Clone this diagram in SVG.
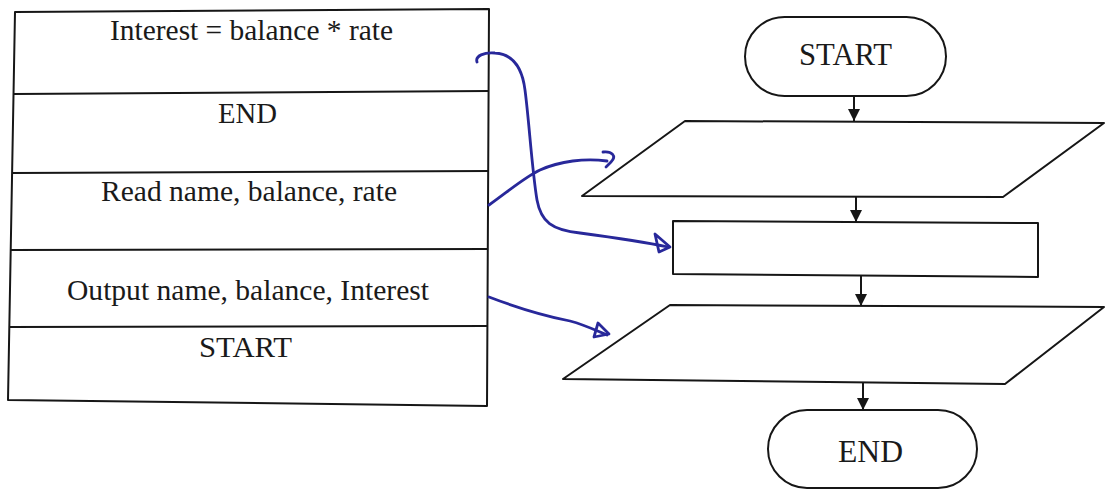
<svg xmlns="http://www.w3.org/2000/svg" width="1105" height="490" viewBox="0 0 1105 490">
<style>
.ln{fill:none;stroke:#161616;stroke-width:2;stroke-linejoin:round}
.txt{font-family:"Liberation Serif","Times New Roman",serif;font-size:30px;fill:#1a1a1a}
.big{font-size:32px}
.blue{fill:none;stroke:#28289a;stroke-width:2.8;stroke-linecap:round;stroke-linejoin:round}
.arr{fill:none;stroke:#161616;stroke-width:2;marker-end:url(#ah)}
</style>
<defs>
<marker id="ah" viewBox="0 0 10 10" refX="10" refY="5" markerWidth="15" markerHeight="12" markerUnits="userSpaceOnUse" orient="auto">
<path d="M0,0 L10,5 L0,10 Z" fill="#161616"/>
</marker>
</defs>
<rect width="1105" height="490" fill="#ffffff"/>

<g id="table">
<polygon class="ln" points="15,12 489,9 487,406 8,400"/>
<line class="ln" x1="14" y1="94" x2="489" y2="91"/>
<line class="ln" x1="12" y1="173" x2="489" y2="171"/>
<line class="ln" x1="11" y1="250" x2="488" y2="249"/>
<line class="ln" x1="9" y1="327" x2="488" y2="326"/>
</g>
<g id="row-interest"><text class="txt" x="110" y="40" textLength="283" lengthAdjust="spacingAndGlyphs">Interest = balance * rate</text></g>
<g id="row-end"><text class="txt" x="218" y="123" textLength="59" lengthAdjust="spacingAndGlyphs">END</text></g>
<g id="row-read"><text class="txt" x="101" y="201" textLength="296" lengthAdjust="spacingAndGlyphs">Read name, balance, rate</text></g>
<g id="row-output"><text class="txt" x="67" y="300" textLength="362" lengthAdjust="spacingAndGlyphs">Output name, balance, Interest</text></g>
<g id="row-start"><text class="txt" x="199" y="357" textLength="93" lengthAdjust="spacingAndGlyphs">START</text></g>

<g id="fc-start">
<rect class="ln" x="745" y="17" width="201" height="79" rx="39.5"/>
<text class="txt big" x="799" y="65" textLength="93" lengthAdjust="spacingAndGlyphs">START</text>
</g>
<g id="fc-input">
<polygon class="ln" points="685,121 1104,123 1003,197 582,196"/>
</g>
<g id="fc-process">
<polygon class="ln" points="673,221 1038,223 1038,277 673,274"/>
</g>
<g id="fc-output">
<polygon class="ln" points="670,305 1104,307 1005,384 563,379"/>
</g>
<g id="fc-end">
<rect class="ln" x="768" y="410" width="209" height="78" rx="39"/>
<text class="txt big" x="838" y="462" textLength="65" lengthAdjust="spacingAndGlyphs">END</text>
</g>

<g id="connectors">
<line class="arr" x1="854" y1="96" x2="854" y2="121"/>
<line class="arr" x1="856" y1="197" x2="856" y2="222"/>
<line class="arr" x1="861" y1="276" x2="861" y2="306"/>
<line class="arr" x1="863" y1="383" x2="863" y2="410"/>

<path class="blue" d="M477,62 C475,56 484,52 495,53 C512,54 522,66 525,90 C529,120 532,170 537,200 C541,222 552,230 580,233 C610,237 640,241 668,247"/>
<path class="blue" d="M655,234 L659,252 L670,247 Z"/>
<path class="blue" d="M489,205 C510,190 525,177 540,170 C560,161 585,158 607,161"/>
<path class="blue" d="M603,152 C612,151 617,156 611,162 L606,167"/>
<path class="blue" d="M489,297 C510,305 540,315 570,321 C585,325 595,330 607,335"/>
<path class="blue" d="M598,323 L609,334 L594,337 Z"/>
</g>
</svg>
